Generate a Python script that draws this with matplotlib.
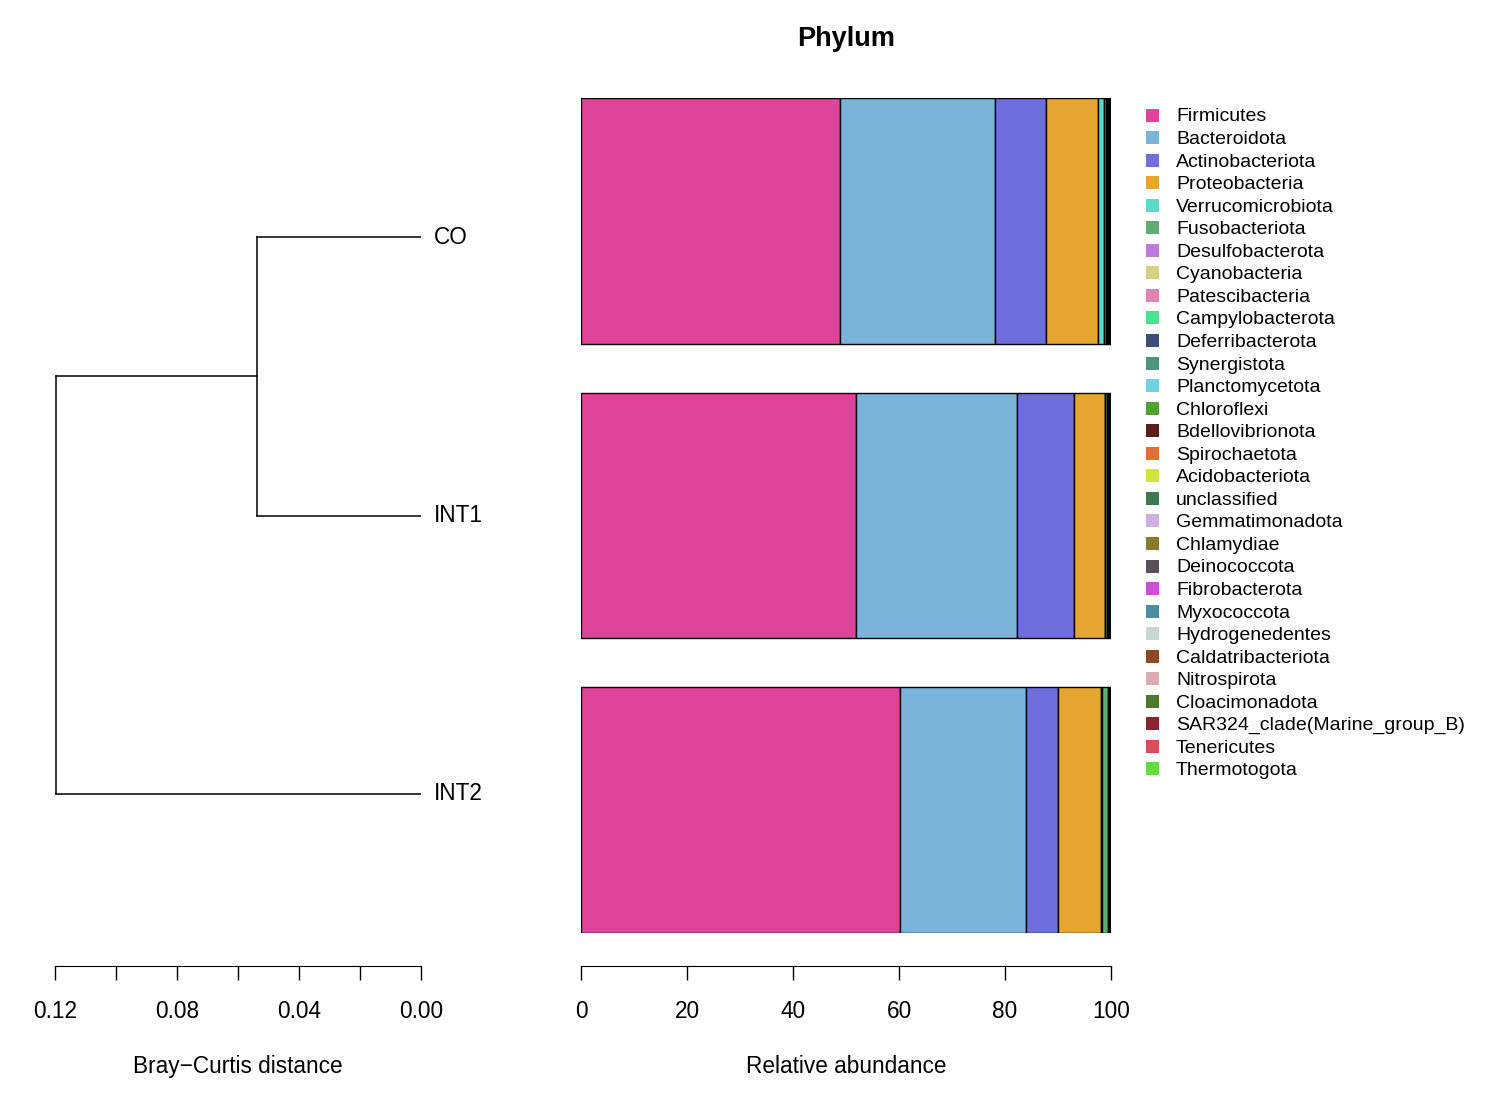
import numpy as np
import matplotlib
matplotlib.use("Agg")
import matplotlib.pyplot as plt
from matplotlib.patches import Rectangle

plt.rcParams['font.family'] = ['Liberation Sans', 'DejaVu Sans']

# samples (top to bottom)
samples = ['CO', 'INT1', 'INT2']

# phylum names and colours (legend order = stacking order)
phyla = ['Firmicutes', 'Bacteroidota', 'Actinobacteriota', 'Proteobacteria',
         'Verrucomicrobiota', 'Fusobacteriota', 'Desulfobacterota', 'Cyanobacteria',
         'Patescibacteria', 'Campylobacterota', 'Deferribacterota', 'Synergistota',
         'Planctomycetota', 'Chloroflexi', 'Bdellovibrionota', 'Spirochaetota',
         'Acidobacteriota', 'unclassified', 'Gemmatimonadota', 'Chlamydiae',
         'Deinococcota', 'Fibrobacterota', 'Myxococcota', 'Hydrogenedentes',
         'Caldatribacteriota', 'Nitrospirota', 'Cloacimonadota',
         'SAR324_clade(Marine_group_B)', 'Tenericutes', 'Thermotogota']
colors = ['#E0439A', '#7AB4DA', '#6E6EDC', '#E5A530', '#5ED8C8', '#5BAF74',
          '#C07ADB', '#D4D27F', '#E184B5', '#4DE08F', '#3D4C7A', '#4B957F',
          '#6BD3E8', '#4EA32E', '#5A1E1A', '#DE7033', '#D3E33C', '#3B7A4F',
          '#CFB1E0', '#8C7A2B', '#5A4F57', '#CF4DDA', '#4A8DA0', '#C9D9D2',
          '#8B4A22', '#E0AAB3', '#4A7A2A', '#8B2230', '#E04A5A', '#5EE03A']

# relative abundance (%) per sample, in phyla order
co = [48.9, 29.2, 9.6, 9.8, 1.1, 0.45, 0.2, 0.15, 0.12, 0.1, 0.08, 0.06, 0.05, 0.04,
      0.04, 0.03, 0.02, 0.02, 0.01, 0.01, 0.01, 0.01, 0.01, 0.0, 0.0, 0.0, 0.0, 0.0, 0.0, 0.0]
int1 = [51.9, 30.4, 10.7, 5.8, 0.15, 0.25, 0.2, 0.1, 0.1, 0.05, 0.1, 0.05, 0.03, 0.03,
        0.05, 0.02, 0.02, 0.02, 0.01, 0.01, 0.01, 0.0, 0.0, 0.0, 0.0, 0.0, 0.0, 0.0, 0.0, 0.0]
int2 = [60.2, 23.8, 6.0, 8.2, 0.1, 1.2, 0.15, 0.1, 0.05, 0.05, 0.05, 0.03, 0.02, 0.02,
        0.01, 0.01, 0.01, 0.0, 0.0, 0.0, 0.0, 0.0, 0.0, 0.0, 0.0, 0.0, 0.0, 0.0, 0.0, 0.0]
abund = np.array([co, int1, int2])

# dendrogram: merge heights (Bray-Curtis)
h_co_int1 = 0.0538
h_root = 0.1197

W, H = 1488, 1113
fig = plt.figure(figsize=(W / 100, H / 100), dpi=100)

def px_axes(x0, x1, y0, y1):
    return fig.add_axes([x0 / W, 1 - y1 / H, (x1 - x0) / W, (y1 - y0) / H])

# ---- bars ----
ax = px_axes(581, 1111, 98, 933)
ypos = np.arange(len(samples))
left = np.zeros(len(samples))
for j, name in enumerate(phyla):
    ax.barh(ypos, abund[:, j], left=left, height=1 / 1.2, color=colors[j],
            edgecolor='black', linewidth=1.0)
    left += abund[:, j]
ax.set_xlim(0, 100)
ax.set_ylim(len(samples) - 1 + 0.5 / 1.2, -0.5 / 1.2)
for s in ['top', 'right', 'left']:
    ax.spines[s].set_visible(False)
ax.spines['bottom'].set_position(('outward', 23.8))
ax.spines['bottom'].set_bounds(0, 100)
ax.set_yticks([])
ax.set_xticks(np.arange(0, 101, 20))
ax.tick_params(axis='x', length=10, width=1, pad=14.5, labelsize=16.3)
ax.set_xlabel('Relative abundance', fontsize=16.3, labelpad=23)
ax.set_title('Phylum', fontsize=19.5, fontweight='bold', pad=37.5)

# ---- dendrogram ----
ad = px_axes(55, 421, 98, 933)
ad.set_xlim(0.12, 0.0)
ad.set_ylim(3.5, 0.5)
lw = 1.1
ad.plot([0, h_co_int1], [1, 1], color='black', lw=lw)
ad.plot([0, h_co_int1], [2, 2], color='black', lw=lw)
ad.plot([h_co_int1, h_co_int1], [1, 2], color='black', lw=lw)
ad.plot([h_co_int1, h_root], [1.5, 1.5], color='black', lw=lw)
ad.plot([0, h_root], [3, 3], color='black', lw=lw)
ad.plot([h_root, h_root], [1.5, 3], color='black', lw=lw)
for i, s in enumerate(samples):
    ad.annotate(s, xy=(0, i + 1), xytext=(9, 0), textcoords='offset points',
                ha='left', va='center', fontsize=16.3)
for s in ['top', 'right', 'left']:
    ad.spines[s].set_visible(False)
ad.spines['bottom'].set_position(('outward', 23.8))
ad.spines['bottom'].set_bounds(0.12, 0.0)
ad.set_yticks([])
ad.set_xticks([0.12, 0.08, 0.04, 0.0])
ad.set_xticklabels(['0.12', '0.08', '0.04', '0.00'])
ad.set_xticks([0.10, 0.06, 0.02], minor=True)
ad.tick_params(axis='x', which='both', length=10, width=1, pad=14.5, labelsize=16.3)
ad.set_xlabel('Bray\u2212Curtis distance', fontsize=16.3, labelpad=23)

# ---- legend ----
row0, step = 115, 22.55
for i, (name, c) in enumerate(zip(phyla, colors)):
    yc = row0 + i * step
    fig.patches.append(Rectangle((1146 / W, 1 - (yc + 6.5) / H), 13 / W, 13 / H,
                                 transform=fig.transFigure, facecolor=c,
                                 edgecolor='none'))
    fig.text(1176 / W, 1 - (yc + 2) / H, name, fontsize=14, ha='left', va='center')

fig.savefig('out.png', dpi=100)
